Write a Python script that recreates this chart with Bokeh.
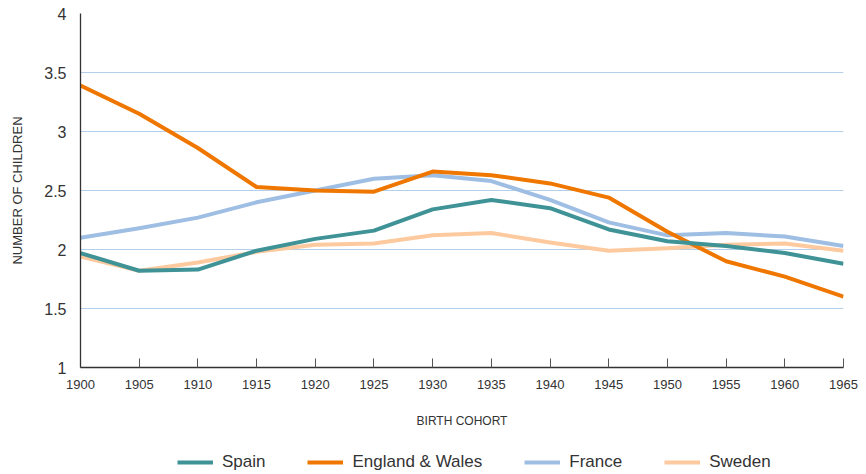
from bokeh.plotting import figure
from bokeh.models import Range1d, Legend, LegendItem, FixedTicker
from bokeh.layouts import column
from bokeh.embed import file_html
from bokeh.resources import INLINE

years = [1900, 1905, 1910, 1915, 1920, 1925, 1930, 1935, 1940, 1945, 1950, 1955, 1960, 1965]
spain = [1.97, 1.82, 1.83, 1.99, 2.09, 2.16, 2.34, 2.42, 2.35, 2.17, 2.07, 2.03, 1.97, 1.88]
england = [3.39, 3.15, 2.86, 2.53, 2.50, 2.49, 2.66, 2.63, 2.56, 2.44, 2.15, 1.90, 1.77, 1.60]
france = [2.10, 2.18, 2.27, 2.40, 2.50, 2.60, 2.63, 2.58, 2.42, 2.23, 2.12, 2.14, 2.11, 2.03]
sweden = [1.94, 1.82, 1.89, 1.98, 2.04, 2.05, 2.12, 2.14, 2.06, 1.99, 2.01, 2.04, 2.05, 1.99]
y_ticks = [1, 1.5, 2, 2.5, 3, 3.5, 4]

FONT = "Liberation Sans"
TXT = "#333333"

p = figure(width=858, height=440, output_backend="svg", toolbar_location=None,
           x_range=Range1d(1900, 1965), y_range=Range1d(1, 4),
           min_border_left=80, min_border_right=15, min_border_top=13, min_border_bottom=73)
p.outline_line_color = None
p.background_fill_color = "white"

p.xgrid.grid_line_color = None
p.ygrid.grid_line_color = "#b3cfea"
p.ygrid.grid_line_width = 1.2
p.ygrid.ticker = FixedTicker(ticks=y_ticks)

p.xaxis.ticker = FixedTicker(ticks=years)
p.yaxis.ticker = FixedTicker(ticks=y_ticks)
p.xaxis.major_tick_in = 9
p.xaxis.major_tick_out = 0
p.xaxis.minor_tick_line_color = None
p.yaxis.major_tick_line_color = None
p.yaxis.minor_tick_line_color = None
p.xaxis.axis_line_color = "#333333"
p.yaxis.axis_line_color = "#333333"
p.xaxis.major_tick_line_color = "#555555"
p.xaxis.axis_line_width = 1.3
p.yaxis.axis_line_width = 1.3

p.xaxis.major_label_text_font = FONT
p.xaxis.major_label_text_font_size = "13px"
p.xaxis.major_label_text_color = TXT
p.xaxis.major_label_standoff = 12
p.yaxis.major_label_text_font = FONT
p.yaxis.major_label_text_font_size = "16px"
p.yaxis.major_label_text_color = TXT
p.yaxis.major_label_standoff = 8

p.xaxis.axis_label = "BIRTH COHORT"
p.yaxis.axis_label = "NUMBER OF CHILDREN"
for ax in (p.xaxis, p.yaxis):
    ax.axis_label_text_font = FONT
    ax.axis_label_text_font_style = "normal"
    ax.axis_label_text_color = TXT
p.xaxis.axis_label_text_font_size = "12px"
p.yaxis.axis_label_text_font_size = "13px"
p.xaxis.axis_label_standoff = 22
p.yaxis.axis_label_standoff = 16

series = [("Spain", spain, "#3f9396"), ("England & Wales", england, "#ef7700"),
          ("France", france, "#9fbee3"), ("Sweden", sweden, "#fdca9f")]
for name, vals, col in reversed(series):
    p.line(years, vals, line_color=col, line_width=4, line_join="round")

# legend strip below the chart (its lines lie outside its view, only the legend shows)
p2 = figure(width=858, height=34, output_backend="svg", toolbar_location=None,
            x_range=Range1d(0, 1), y_range=Range1d(0, 1),
            x_axis_location=None, y_axis_location=None, min_border=0)
p2.outline_line_color = None
p2.grid.visible = False
items = []
for name, vals, col in series:
    r = p2.line(years, vals, line_color=col, line_width=4)
    items.append(LegendItem(label=name, renderers=[r]))
legend = Legend(items=items, orientation="horizontal", location=(97, 2),
                label_text_font=FONT, label_text_font_size="17px", label_text_color=TXT,
                glyph_width=36, glyph_height=16, label_height=16, label_standoff=9, spacing=42,
                border_line_color=None, background_fill_alpha=0, margin=0, padding=0)
p2.add_layout(legend, "center")

open("out.html", "w").write(file_html(column(p, p2, spacing=0), INLINE))
